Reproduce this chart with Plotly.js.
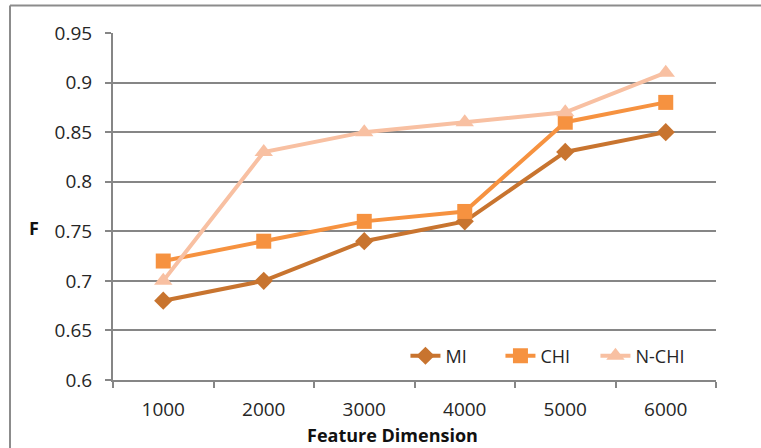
<!DOCTYPE html>
<html>
<head>
<meta charset="utf-8">
<script src="https://cdn.plot.ly/plotly-3.0.1.min.js"></script>
<style>
html,body{margin:0;padding:0;background:#fff;}
#chart{width:761px;height:448px;}
</style>
</head>
<body>
<div id="chart"></div>
<script>
var categories = ['1000','2000','3000','4000','5000','6000'];
var miValues = [0.68, 0.70, 0.74, 0.76, 0.83, 0.85];
var chiValues = [0.72, 0.74, 0.76, 0.77, 0.86, 0.88];
var nchiValues = [0.70, 0.83, 0.85, 0.86, 0.87, 0.91];
var seriesNames = ['MI', 'CHI', 'N-CHI'];
var yTickValues = [0.6, 0.65, 0.7, 0.75, 0.8, 0.85, 0.9, 0.95];
var yTickLabels = ['0.6', '0.65', '0.7', '0.75', '0.8', '0.85', '0.9', '0.95'];

var font = 'Open Sans, Noto Sans, Liberation Sans, sans-serif';

var traces = [
  {x: categories, y: miValues, name: seriesNames[0], type: 'scatter', mode: 'lines+markers',
   line: {color: '#C8742F', width: 4}, marker: {symbol: 'diamond', size: 14, color: '#C8742F'}},
  {x: categories, y: chiValues, name: seriesNames[1], type: 'scatter', mode: 'lines+markers',
   line: {color: '#F69240', width: 4}, marker: {symbol: 'square', size: 15, color: '#F69240'}},
  {x: categories, y: nchiValues, name: seriesNames[2], type: 'scatter', mode: 'lines+markers',
   line: {color: '#F8C0A2', width: 4}, marker: {symbol: 'triangle-up', size: 16, color: '#F8C0A2'}}
];

var layout = {
  width: 761, height: 448,
  margin: {l: 113, r: 45, t: 33, b: 68},
  paper_bgcolor: '#fff', plot_bgcolor: '#fff',
  font: {family: font, size: 19, color: '#262626'},
  showlegend: true,
  legend: {orientation: 'h', x: 0.485, y: 0.069, xanchor: 'left', yanchor: 'middle',
    entrywidth: 50,
    font: {family: font, size: 18, color: '#262626'}, bgcolor: 'rgba(255,255,255,0)', tracegroupgap: 0},
  xaxis: {type: 'category', range: [-0.5, 5.5], showgrid: false, showline: true,
    linecolor: '#868686', linewidth: 2, ticks: 'outside', tickson: 'boundaries',
    ticklen: 6, tickcolor: '#868686', tickwidth: 2, ticklabelstandoff: 11,
    tickfont: {family: font, size: 19, color: '#262626'}, zeroline: false, fixedrange: true},
  yaxis: {range: [0.6, 0.95], tickvals: yTickValues, ticktext: yTickLabels,
    showgrid: true, gridcolor: '#868686', gridwidth: 2, showline: true,
    linecolor: '#868686', linewidth: 2, ticks: 'outside', ticklen: 6,
    tickcolor: '#868686', tickwidth: 2, ticklabelstandoff: 9,
    tickfont: {family: font, size: 19, color: '#262626'}, zeroline: false, fixedrange: true},
  annotations: [
    {text: '<b>F</b>', xref: 'paper', yref: 'paper', x: -0.1426, y: 0.439,
     xanchor: 'left', yanchor: 'middle',
     showarrow: false, font: {family: font, size: 18, color: '#111'}},
    {text: '<b>Feature Dimension</b>', xref: 'paper', yref: 'paper', x: 0.4627, y: -0.158,
     xanchor: 'center', yanchor: 'middle',
     showarrow: false, font: {family: font, size: 18, color: '#111'}}
  ],
  shapes: [
    {type: 'line', xref: 'paper', yref: 'paper', x0: -0.1708, x1: -0.1708, y0: 1.079, y1: -0.3,
     line: {color: '#8c8c8c', width: 2}},
    {type: 'line', xref: 'paper', yref: 'paper', x0: -0.1708, x1: 1.2, y0: 1.079, y1: 1.079,
     line: {color: '#8c8c8c', width: 2}}
  ]
};

Plotly.newPlot('chart', traces, layout, {displayModeBar: false, staticPlot: true});
</script>
</body>
</html>
